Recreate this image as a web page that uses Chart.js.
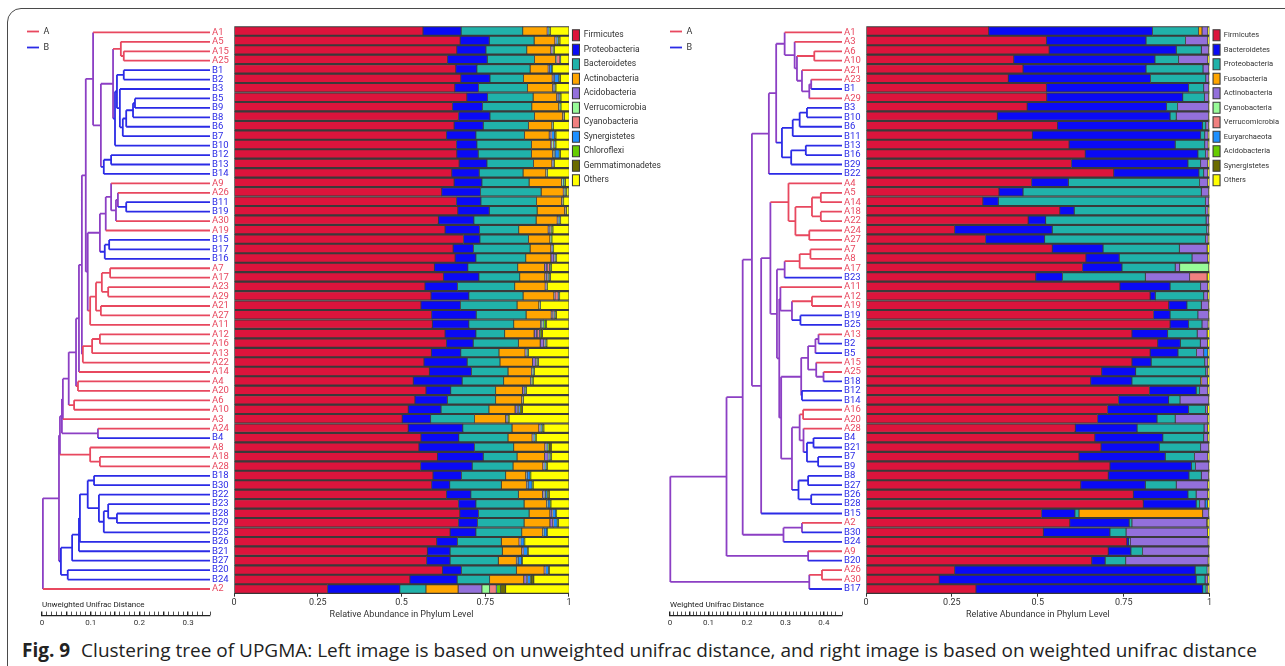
<!DOCTYPE html>
<html>
<head>
<meta charset="utf-8">
<script src="https://cdn.jsdelivr.net/npm/chart.js@4.4.1/dist/chart.umd.min.js"></script>
<style>
  html, body { margin: 0; padding: 0; background: #fff; overflow: hidden; width: 1285px; height: 666px; }
  canvas { position: absolute; }
  #frame { position: absolute; left: 7px; top: 8px; width: 1300px; height: 700px; border: 1.5px solid #4a4a4a; border-radius: 14px; }
  #caption { position: absolute; left: 22px; top: 637px; font-family: 'Open Sans', 'Noto Sans', sans-serif; font-size: 19px; color: #222; white-space: nowrap; }
  #caption b { font-weight: 700; margin-right: 6px; }
</style>
</head>
<body>
<div id="frame"></div>
<canvas id="treeL" width="225" height="600" style="left:20px;top:20px"></canvas>
<canvas id="barsL" width="441" height="600" style="left:230px;top:20px"></canvas>
<canvas id="scaleL" width="180" height="28" style="left:36px;top:600px"></canvas>
<canvas id="treeR" width="214" height="600" style="left:663px;top:20px"></canvas>
<canvas id="barsR" width="427" height="600" style="left:862px;top:20px"></canvas>
<canvas id="scaleR" width="184" height="28" style="left:664px;top:600px"></canvas>
<div id="caption"><b>Fig. 9</b> Clustering tree of UPGMA: Left image is based on unweighted unifrac distance, and right image is based on weighted unifrac distance</div>
<script>
// ---- left panel (unweighted unifrac) ----
const leftSamples = ['A1','A5','A15','A25','B1','B2','B3','B5','B9','B8',
  'B6','B7','B10','B12','B13','B14','A9','A26','B11','B19',
  'A30','A19','B15','B17','B16','A7','A17','A23','A29','A21',
  'A27','A11','A12','A16','A13','A22','A14','A4','A20','A6',
  'A10','A3','A24','B4','A8','A18','A28','B18','B30','B22',
  'B23','B28','B29','B25','B26','B21','B27','B20','B24','A2'];

const leftPhyla = ['Firmicutes','Proteobacteria','Bacteroidetes','Actinobacteria','Acidobacteria',
  'Verrucomicrobia','Cyanobacteria','Synergistetes','Chloroflexi','Gemmatimonadetes','Others'];

const leftFirmicutes = [56.4,67.5,66.5,63.7,66.2,67.7,65.9,69.5,65.2,67.0,
  65.7,63.4,66.4,66.5,67.2,65.0,65.7,62.0,66.4,66.8,
  61.0,63.0,68.5,65.4,66.0,59.8,62.5,57.0,58.8,55.8,
  59.0,59.2,63.0,63.4,58.9,56.7,58.3,53.5,57.3,54.0,
  52.0,50.2,52.0,55.8,55.2,60.7,55.7,59.4,59.0,63.4,
  67.0,67.4,67.0,64.5,60.5,57.7,57.5,62.2,52.5,27.9];
const leftProteobacteria = [11.4,8.7,8.7,11.9,6.3,8.7,7.1,6.2,9.0,9.4,
  8.7,8.8,6.1,6.4,8.3,8.2,8.3,11.6,7.3,9.4,
  10.6,10.3,4.9,6.1,6.2,10.0,10.6,9.7,11.3,11.8,
  13.3,10.9,9.2,8.0,8.8,12.9,12.6,14.6,7.4,9.7,
  9.8,8.5,16.3,11.3,16.6,13.7,15.4,8.5,5.4,7.3,
  5.2,5.6,5.7,7.7,6.2,6.8,7.0,5.7,14.1,21.6];
const leftBacteroidetes = [18.4,13.4,12.2,14.1,15.9,10.0,14.6,13.6,14.7,13.3,
  13.5,14.5,16.3,15.9,13.9,13.1,14.1,18.1,16.6,14.3,
  18.6,11.7,14.5,16.9,14.9,14.9,12.2,17.1,16.2,16.9,
  14.9,13.4,8.6,13.5,11.4,9.8,10.9,12.4,13.4,14.4,
  14.3,13.1,14.7,14.7,11.7,10.1,12.2,13.2,15.4,14.2,
  14.4,15.1,13.9,13.7,13.1,15.6,14.4,16.4,9.7,7.8];
const leftActinobacteria = [7.3,6.2,7.2,6.3,5.4,8.6,7.5,7.0,8.0,8.4,
  7.0,7.4,5.8,6.3,5.5,6.8,9.7,6.6,7.5,8.2,
  6.3,8.8,6.4,6.2,7.5,8.0,7.5,9.1,9.2,6.5,
  7.5,8.0,8.8,6.5,7.8,9.7,7.0,8.0,8.0,7.8,
  7.8,9.3,8.0,7.2,9.3,8.2,8.9,6.0,7.5,7.2,
  6.7,6.2,7.7,6.2,5.3,5.8,5.4,8.3,10.2,9.6];
const leftAcidobacteria = [0.2,0.4,0.3,0.2,0.1,0.4,0.3,0.3,0.2,0.1,
  0.1,0.5,0.2,0.2,0.2,0.1,0.1,0.3,0.1,0.1,
  0.3,0.4,0.1,0.2,0.9,0.7,0.5,0.2,0.2,0.1,
  0.4,0.3,0.8,1.1,0.3,0.9,0.2,0.2,0.6,0.1,
  0.7,0.3,0.4,0.3,0.4,1.1,0.4,0.2,0.3,0.5,
  0.2,0.6,0.9,0.2,0.3,0.3,0.3,0.2,0.8,7.1];
const leftVerrucomicrobia = [0.1,0.1,0.1,0.1,0.1,0.1,0.1,0.1,0.1,0.1,
  0.1,0.1,0.5,0.4,0.1,0.1,0.4,0.1,0.1,0.1,
  0.1,0.1,0.1,0.1,0.1,0.1,0.1,0.1,0.1,0.1,
  0.1,0.4,0.1,0.1,0.1,0.1,0.1,0.1,0.1,0.1,
  0.1,0.1,0.1,0.1,0.1,0.1,0.1,0.1,0.1,0.1,
  0.1,0.1,0.1,0.1,0.1,0.1,0.1,0.1,0.1,2.3];
const leftCyanobacteria = [0,0.1,0.1,1.0,0.1,0.1,0.1,0.1,0.1,0.1,
  0,0.1,0.1,0.1,0.1,0.1,0,0.1,0.1,0.1,
  0.1,0.2,0.1,0.1,0.1,0.7,0.2,0.1,1.0,0.1,
  0.2,0.1,0.7,0.2,0.1,0.2,0.1,0.1,0.1,0.1,
  0.2,0.1,0.2,0.1,0.2,0.2,0.1,0.1,0.1,0.2,
  0.1,0.1,0.1,0.1,0.1,0.1,0.1,0.1,0.2,2.0];
const leftSynergistetes = [0.1,0.4,0.2,0.1,0.8,1.4,0.2,0.5,0.1,0.1,
  0.1,0.9,0.4,1.3,0.1,0.1,0.1,0.1,0.1,0.1,
  0.2,0.2,0.1,0.2,0.3,0.2,0.3,0.1,0.1,0.1,
  0.3,0.1,0.2,0.2,0.2,0.2,0.2,0.1,0.1,0.1,
  0.5,0.2,0.3,0.4,0.2,0.3,0.3,0.9,1.2,0.6,
  0.7,1.0,1.1,0.9,1.0,1.2,1.1,0.9,0.9,0.1];
const leftChloroflexi = [0.4,0.1,0.1,0,0.1,0.1,0.1,0.1,0.1,0,
  0,0.1,0.1,0.1,0.1,0,0.4,0.1,0.1,0,
  0.1,0.1,0.1,0.1,0.1,0.1,0.2,0.1,0.1,0,
  0.1,0.7,0.1,0.1,0.1,0.1,0.1,0.1,0.1,0,
  0.1,0.1,0.1,0.1,0.3,0.1,0.1,0.1,0.1,0.1,
  0.1,0.1,0.1,0.1,0.1,0.1,0.1,0.1,0.2,1.2];
const leftGemmatimonadetes = [0.2,0.4,0.2,0.1,0.1,0.3,0.2,0.2,0.1,0.1,
  0.1,0.3,0.2,0.2,0.1,0.1,0.1,0.3,0.1,0.1,
  0.2,0.4,0.1,0.1,0.2,0.3,0.4,0.1,0.2,0.1,
  0.4,0.2,0.6,0.3,0.2,0.3,0.2,0.2,0.2,0.1,
  0.6,0.2,0.4,0.2,0.7,0.3,0.3,0.1,0.2,0.5,
  0.1,0.1,0.2,0.1,0.1,0.1,0.1,0.1,0.8,1.5];
const leftOthers = [5.5,2.8,4.5,2.5,5.0,2.8,4.0,2.5,2.5,1.5,
  4.8,4.0,4.0,2.7,4.5,6.5,1.2,0.7,1.7,0.8,
  2.5,4.8,5.2,4.7,3.8,5.2,5.5,6.5,2.8,8.5,
  3.8,6.7,8.0,6.7,12.1,9.2,10.3,10.7,12.7,13.6,
  13.9,17.9,7.5,9.8,5.3,5.2,6.5,11.4,10.7,6.0,
  5.5,3.8,3.3,6.5,13.2,12.3,13.9,6.0,10.5,19.0];

// UPGMA tree: [height, child, child]; leaves are sample names
const leftTree =
[0.343,
  [0.310,
    [0.308,
      [0.304,
        [0.302,
          [0.290,
            [0.275,
              [0.269,
                [0.263,
                  [0.255,
                    [0.240, 'A1',
                      [0.224,
                        [0.199,
                          [0.183, 'A5', [0.177, 'A15', 'A25']],
                          [0.195,
                            [0.191,
                              [0.177, 'B1', 'B2'],
                              [0.185, 'B3', [0.179, [0.172, [0.158, [0.154, 'B5', 'B9'], 'B8'], 'B6'], 'B7']]],
                            'B10']],
                        [0.218, [0.203, 'B12', 'B13'], 'B14']]],
                    [0.251,
                      [0.226,
                        [0.214, [0.203, 'A9', [0.193, [0.189, 'A26', [0.172, 'B11', 'B19']], 'A30']], 'A19'],
                        [0.216, [0.207, 'B15', 'B17'], 'B16']],
                      [0.246,
                        [0.234,
                          [0.222, [0.205, 'A7', 'A17'], [0.209, 'A23', 'A29']],
                          [0.224, 'A21', 'A27']],
                        'A11']]],
                  [0.261, [0.242, [0.226, 'A12', 'A16'], 'A13'], 'A22']],
                'A14'],
              [0.271, 'A4', 'A20']],
            [0.279, 'A6', 'A10']],
          'A3'],
        [0.230, 'A24', 'B4']],
      [0.246, 'A8', [0.226, 'A18', 'A28']]],
    [0.306,
      [0.283,
        [0.269,
          [0.267,
            [0.251,
              [0.238, 'B18', 'B30'],
              [0.228, 'B22', [0.218, [0.209, 'B23', [0.191, 'B28', 'B29']], 'B25']]],
            'B26'],
          'B21'],
        'B27'],
      [0.292, 'B20', 'B24']]],
  'A2'];

// ---- right panel (weighted unifrac) ----
const rightSamples = ['A1','A3','A6','A10','A21','A23','B1','A29','B3','B10',
  'B6','B11','B13','B16','B29','B22','A4','A5','A14','A18',
  'A22','A24','A27','A7','A8','A17','B23','A11','A12','A19',
  'B19','B25','A13','B2','B5','A15','A25','B18','B12','B14',
  'A16','A20','A28','B4','B21','B7','B9','B8','B27','B26',
  'B28','B15','A2','B30','B24','A9','B20','A26','A30','B17'];

const rightPhyla = ['Firmicutes','Bacteroidetes','Proteobacteria','Fusobacteria','Actinobacteria',
  'Cyanobacteria','Verrucomicrobia','Euryarchaeota','Acidobacteria','Synergistetes','Others'];

const rightFirmicutes = [35.7,52.5,53.3,43.0,45.7,41.4,52.5,52.6,46.9,38.2,
  55.7,48.4,59.1,63.8,59.8,72.1,48.2,38.7,34.0,56.4,
  47.2,25.8,34.8,54.2,64.0,63.0,49.4,73.9,82.7,88.1,
  83.7,88.5,77.4,84.9,82.7,77.4,68.6,65.4,82.5,73.5,
  70.3,67.4,60.9,66.6,68.4,62.0,71.0,70.5,62.5,77.8,
  80.7,51.1,59.3,51.6,75.9,70.5,65.7,25.8,21.3,32.0];
const rightBacteroidetes = [47.7,29.0,37.0,41.1,35.8,41.4,41.4,39.6,40.6,50.3,
  42.2,49.0,30.9,32.8,33.9,24.8,10.7,7.0,4.5,4.2,
  5.1,28.4,17.2,14.8,9.7,11.5,7.8,14.6,1.5,5.3,
  4.8,5.4,10.4,6.6,8.1,5.6,9.9,12.0,13.6,14.6,
  23.6,17.3,18.0,19.8,17.0,25.1,23.7,23.5,18.8,15.9,
  15.4,9.7,17.3,19.4,0.6,6.6,3.9,70.0,74.8,66.0];
const rightProteobacteria = [13.4,11.5,7.3,6.9,16.6,16.1,4.4,6.3,3.2,1.8,
  1.0,1.2,8.6,2.2,3.7,1.4,38.2,51.9,60.3,38.2,
  46.7,45.0,46.8,22.2,21.2,15.5,24.1,8.9,14.1,4.2,
  8.1,3.9,8.6,5.8,5.4,15.6,20.4,20.0,1.0,3.3,
  4.9,5.3,19.5,11.9,12.0,8.5,1.2,3.6,9.0,2.4,
  1.0,1.2,0.8,4.7,0.4,3.4,6.0,3.5,2.6,1.0];
const rightFusobacteria = [1.0,0,0,0,0,0,0,0,0,0,
  0,0,0,0,0,0,0,0,0,0,
  0,0,0,0,0,0,0,0,0,0,
  0,0,0,0,0,0,0,0.3,0,0,
  0,0,0,0,0,0,0,0,0,0,
  0,36.0,0,0,0,0,0,0,0,0];
const rightActinobacteria = [1.7,6.5,2.1,8.5,1.7,0.9,1.5,1.2,9.0,9.4,
  0.8,1.0,1.0,0.8,2.1,1.2,2.4,2.1,1.0,0.8,
  0.8,0.5,0.8,8.1,4.6,1.3,12.9,2.1,1.2,2.1,
  3.1,1.8,2.9,2.1,2.1,0.9,0.6,1.7,2.4,8.3,
  0.6,9.5,1.0,1.2,2.3,3.9,3.9,2.1,9.2,3.4,
  1.6,1.7,21.8,23.7,22.7,19.2,24.0,0.3,0.8,0.5];
const rightCyanobacteria = [0,0,0,0,0,0,0,0,0,0,
  0,0,0,0,0,0,0,0,0,0,
  0,0,0,0,0,8.5,0,0,0,0,
  0,0,0,0,0,0,0,0,0,0,
  0,0,0,0,0,0,0,0,0,0,
  0,0,0,0,0,0,0,0,0,0];
const rightVerrucomicrobia = [0,0,0,0,0,0,0,0,0,0,
  0,0,0,0,0,0,0,0,0,0,
  0,0,0,0,0,0,5.1,0,0,0,
  0,0,0,0,0,0,0,0,0,0,
  0,0,0,0,0,0,0,0,0,0,
  0,0,0,0,0,0,0,0,0,0];
const rightEuryarchaeota = [0,0,0,0,0,0,0,0,0,0,
  0,0,0,0,0,0,0,0,0,0,
  0,0,0,0,0,0,0,0,0,0,
  0,0,0,0,1.2,0,0,0,0,0,
  0,0,0,0,0,0,0,0,0,0,
  0.7,0,0,0,0,0,0,0,0,0];
const rightAcidobacteria = [0,0,0,0,0,0,0,0,0,0,
  0,0,0,0,0,0,0,0,0,0,
  0,0,0,0,0,0,0,0,0,0,
  0,0,0,0,0,0,0,0,0,0,
  0,0,0,0,0,0,0,0,0,0,
  0,0,0,0,0,0,0,0,0,0];
const rightSynergistetes = [0,0,0,0,0,0,0,0,0,0,
  0,0,0,0,0,0,0,0,0,0,
  0,0,0,0,0,0,0,0,0,0,
  0,0,0,0,0,0,0,0,0,0,
  0,0,0,0,0,0,0,0,0,0,
  0,0,0.3,0,0,0,0,0,0,0];
const rightOthers = [0.5,0.5,0.3,0.5,0.2,0.2,0.2,0.3,0.3,0.3,
  0.3,0.4,0.4,0.4,0.5,0.5,0.5,0.3,0.2,0.4,
  0.2,0.3,0.4,0.7,0.5,0.2,0.7,0.5,0.5,0.3,
  0.3,0.4,0.7,0.6,0.5,0.5,0.5,0.6,0.5,0.3,
  0.6,0.5,0.6,0.5,0.3,0.5,0.2,0.3,0.5,0.5,
  0.6,0.3,0.5,0.6,0.4,0.3,0.4,0.4,0.5,0.5];

const rightTree =
[0.446,
  [0.300,
    [0.258,
      [0.234,
        [0.190,
          [0.171,
            [0.149, 'A1', [0.123, 'A3', [0.117, [0.072, 'A6', 'A10'], [0.104, 'A21', [0.085, [0.080, 'A23', 'B1'], 'A29']]]]],
            [0.156, [0.128, [0.110, [0.091, 'B3', 'B10'], 'B6'], 'B11'], [0.132, [0.094, 'B13', 'B16'], 'B29']]],
          'B22'],
        [0.210,
          [0.186,
            [0.139, 'A4', [0.121, [0.078, [0.055, 'A5', 'A14'], [0.055, 'A18', 'A22']], [0.085, 'A24', 'A27']]],
            [0.169,
              [0.149, [0.110, [0.082, 'A7', 'A8'], 'A17'], 'B23'],
              [0.163,
                [0.160, 'A11', [0.130, [0.078, 'A12', 'A19'], [0.108, 'B19', 'B25']]],
                [0.158,
                  [0.106, [0.088, [0.069, [0.061, 'A13', 'B2'], 'B5'], [0.067, 'A15', [0.048, 'A25', 'B18']]], [0.104, 'B12', 'B14']],
                  [0.130,
                    [0.110, [0.101, 'A16', 'A20'], [0.100, 'A28', [0.091, [0.074, 'B4', 'B21'], [0.062, 'B7', 'B9']]]],
                    [0.113, [0.088, 'B8', 'B27'], [0.080, 'B26', 'B28']]]]]]],
          'B15']],
      [0.152, [0.104, 'A2', 'B30'], 'B24']],
    [0.088, 'A9', 'B20']],
  [0.085, [0.052, 'A26', 'A30'], 'B17']];

const phylumColors = ['#dc143c','#0a0af5','#20b2aa','#ffa500','#9370db',
  '#98fb98','#f08080','#1e90ff','#66cc00','#6b6b00','#ffff00'];
const RED = '#e8485f', BLUE = '#2b2be6', PURPLE = '#8c3fc4';
const NARROW = "'Liberation Sans Narrow', Roboto, sans-serif";

// turns the nested tree into line segments, one list per colour group
function treeSegments(tree, order) {
  const segs = { A: [], B: [], M: [] };
  function walk(node) {
    if (typeof node === 'string') return { y: order.indexOf(node), h: 0, grp: node[0] };
    const [h, ...kids] = node;
    const res = kids.map(walk);
    const grps = new Set(res.map(r => r.grp));
    const grp = grps.size === 1 ? res[0].grp : 'M';
    const ys = res.map(r => r.y);
    const lo = Math.min(...ys), hi = Math.max(...ys);
    segs[grp].push({x: h, y: lo}, {x: h, y: hi}, {x: h, y: null});
    res.forEach(r => segs[r.grp].push({x: h, y: r.y}, {x: r.h, y: r.y}, {x: r.h, y: null}));
    return { y: (lo + hi) / 2, h: h, grp: grp };
  }
  walk(tree);
  return segs;
}

function drawTree(id, tree, order, maxH) {
  const segs = treeSegments(tree, order);
  const line = (label, data, color) => ({ label, data, borderColor: color, backgroundColor: color,
    showLine: true, pointRadius: 0, borderWidth: 1.8 });
  new Chart(document.getElementById(id), {
    type: 'scatter',
    data: { datasets: [line('A', segs.A, RED), line('B', segs.B, BLUE), line('', segs.M, PURPLE)] },
    options: {
      responsive: false, animation: false, events: [],
      layout: { padding: { top: 6.3, bottom: 26.3, left: 0, right: 12 } },
      scales: {
        x: { type: 'linear', reverse: true, min: 0, max: maxH, display: false },
        y: { type: 'linear', position: 'right', reverse: true, min: -0.5, max: order.length - 0.5,
          afterBuildTicks: s => { s.ticks = order.map((n, i) => ({ value: i })); },
          afterFit: s => { s.width = 23; },
          grid: { display: false, drawTicks: false, tickLength: 0 }, border: { display: false },
          ticks: { autoSkip: false, padding: 2, font: { family: NARROW, size: 9.5 },
            color: c => (order[c.index] || 'A')[0] === 'A' ? RED : BLUE,
            callback: v => order[v] } }
      },
      plugins: {
        tooltip: { enabled: false },
        legend: { position: 'chartArea', align: 'start',
          labels: { usePointStyle: true, pointStyle: 'line', pointStyleWidth: 12, boxHeight: 8,
            padding: 7, color: '#333', font: { family: NARROW, size: 9 },
            filter: item => item.text !== '' } }
      }
    }
  });
}

function drawBars(id, samples, phyla, series, legendSize) {
  new Chart(document.getElementById(id), {
    type: 'bar',
    data: {
      labels: samples,
      datasets: phyla.map((p, i) => ({ label: p, data: series[i], backgroundColor: phylumColors[i],
        borderColor: '#3a3a3a', borderWidth: { top: 1.4, bottom: 1.4, left: 0.8, right: 0.8 },
        borderSkipped: false, barPercentage: 1, categoryPercentage: 1 }))
    },
    options: {
      indexAxis: 'y', responsive: false, animation: false, events: [],
      layout: { padding: { top: 6.3, bottom: 0, left: 4, right: 0 } },
      scales: {
        y: { stacked: true, display: false },
        x: { stacked: true, min: 0, max: 100,
          afterFit: s => { s.height = 26.3; },
          grid: { display: true, drawOnChartArea: false, tickLength: 3, color: '#333' },
          border: { display: true, color: '#333' },
          ticks: { stepSize: 25, padding: 1, color: '#333', maxRotation: 0,
            font: { family: NARROW, size: 9 }, callback: v => v / 100 },
          title: { display: true, text: 'Relative Abundance in Phylum Level', color: '#333',
            padding: 0, font: { family: NARROW, size: 9 } } }
      },
      plugins: {
        tooltip: { enabled: false },
        legend: { position: 'right', align: 'start',
          labels: { boxWidth: 7, boxHeight: 11, padding: 3.5, color: '#333',
            font: { family: NARROW, size: legendSize } } }
      }
    }
  });
}

function drawScaleBar(id, title, maxH) {
  new Chart(document.getElementById(id), {
    type: 'scatter',
    data: { datasets: [] },
    options: {
      responsive: false, animation: false, events: [],
      layout: { padding: { left: 6, right: 6, top: 0, bottom: 0 } },
      scales: {
        y: { display: false, min: 0, max: 1 },
        x: { type: 'linear', display: true, min: 0, max: maxH,
          afterFit: s => { s.height = 12; },
          grid: { drawOnChartArea: true, drawTicks: false, color: '#222',
            lineWidth: c => (c.tick && Math.abs(c.tick.value * 20 - Math.round(c.tick.value * 20)) < 1e-6) ? 1.4 : 0.8 },
          border: { display: true, color: '#222', width: 1.2 },
          ticks: { stepSize: 0.01, maxTicksLimit: 100, autoSkip: false, maxRotation: 0, padding: 2,
            color: '#333', font: { family: NARROW, size: 8 },
            callback: v => Math.abs(v * 10 - Math.round(v * 10)) < 1e-6 ? String(Math.round(v * 10) / 10) : '' } }
      },
      plugins: {
        tooltip: { enabled: false }, legend: { display: false },
        title: { display: true, text: title, align: 'start', color: '#222',
          padding: { top: 0, bottom: 2 }, font: { family: NARROW, size: 8, weight: 'normal' } }
      }
    }
  });
}

drawTree('treeL', leftTree, leftSamples, 0.390);
drawBars('barsL', leftSamples, leftPhyla, [leftFirmicutes, leftProteobacteria, leftBacteroidetes,
  leftActinobacteria, leftAcidobacteria, leftVerrucomicrobia, leftCyanobacteria, leftSynergistetes,
  leftChloroflexi, leftGemmatimonadetes, leftOthers], 8.5);
drawScaleBar('scaleL', 'Unweighted Unifrac Distance', 0.345);

drawTree('treeR', rightTree, rightSamples, 0.465);
drawBars('barsR', rightSamples, rightPhyla, [rightFirmicutes, rightBacteroidetes, rightProteobacteria,
  rightFusobacteria, rightActinobacteria, rightCyanobacteria, rightVerrucomicrobia, rightEuryarchaeota,
  rightAcidobacteria, rightSynergistetes, rightOthers], 7.5);
drawScaleBar('scaleR', 'Weighted Unifrac Distance', 0.447);
</script>
</body>
</html>
